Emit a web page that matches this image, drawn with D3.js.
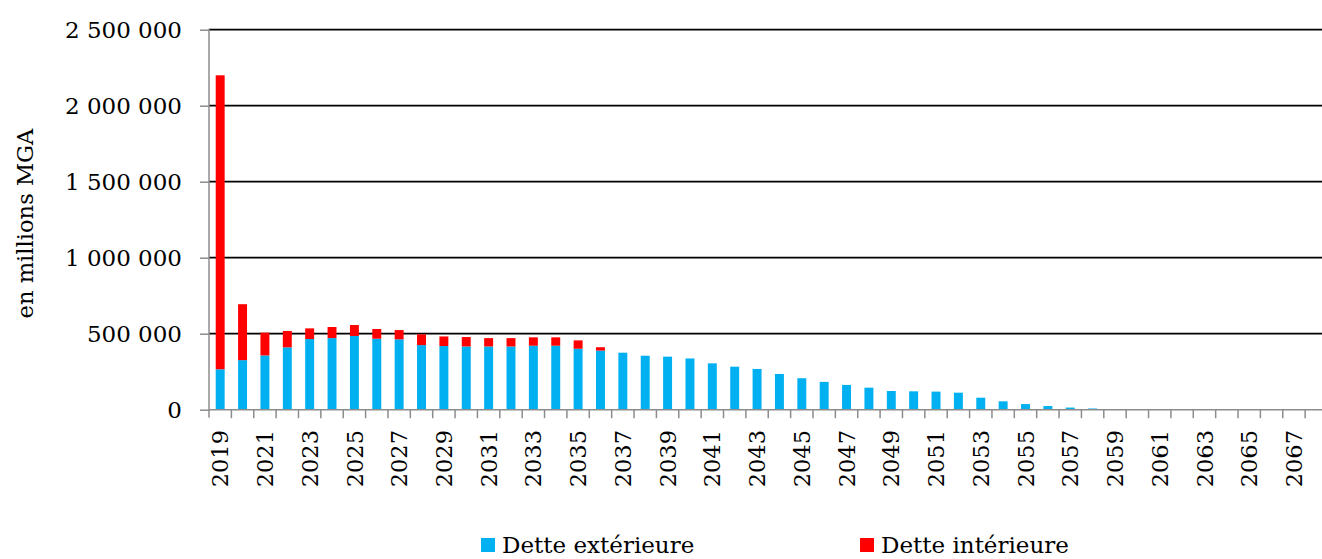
<!DOCTYPE html>
<html>
<head>
<meta charset="utf-8">
<script src="https://cdn.jsdelivr.net/npm/d3@7"></script>
<style>
  html, body { margin: 0; padding: 0; background: #fff; }
  svg { display: block; }
  text { font-family: "DejaVu Serif", serif; fill: #000; }
</style>
</head>
<body>
<svg id="chart" width="1322" height="559"></svg>
<script>
const years = [2019,2020,2021,2022,2023,2024,2025,2026,2027,2028,
  2029,2030,2031,2032,2033,2034,2035,2036,2037,2038,
  2039,2040,2041,2042,2043,2044,2045,2046,2047,2048,
  2049,2050,2051,2052,2053,2054,2055,2056,2057,2058,
  2059,2060,2061,2062,2063,2064,2065,2066,2067,2068];

const detteExterieure = [266000,326000,357000,410000,465000,471000,485000,467000,463000,425000,
  419000,416000,416000,416000,421000,421000,401000,389000,375000,355000,
  349000,337000,305000,283000,268000,235000,207000,183000,163000,145000,
  123000,121000,119000,112000,79000,55000,37000,24000,14000,8000,
  4000,3000,2500,2000,1500,500,0,0,0,0];

const detteInterieure = [1934000,368000,150000,108000,70000,73000,72000,64000,61000,71000,
  63000,62000,55000,55000,55000,55000,55000,22000,0,0,
  0,0,0,0,0,0,0,0,0,0,
  0,0,0,0,0,0,0,0,0,0,
  0,0,0,0,0,0,0,0,0,0];

const yTicks = [0, 500000, 1000000, 1500000, 2000000, 2500000];
const seriesNames = ["Dette extérieure", "Dette intérieure"];
const seriesColors = ["#00B0F0", "#FF0000"];
const yTitle = "en millions MGA";

const svg = d3.select("#chart");
const mLeft = 209, mRight = 1327.5, mTop = 29.7, mBottom = 409.7;

const x = d3.scaleBand().domain(years).range([mLeft, mRight]).paddingInner(0.6).paddingOuter(0.3);
const xb = d3.scaleLinear().domain([0, years.length]).range([mLeft, mRight]);
const y = d3.scaleLinear().domain([0, 2500000]).range([mBottom, mTop]);

// gridlines
svg.append("g").selectAll("line").data(yTicks.filter(d => d > 0)).join("line")
  .attr("x1", mLeft).attr("x2", mRight)
  .attr("y1", d => y(d)).attr("y2", d => y(d))
  .attr("stroke", "#000").attr("stroke-width", 1.8);

// stacked data
const rows = years.map((yr, i) => ({year: yr, ext: detteExterieure[i], int: detteInterieure[i]}));
const stack = d3.stack().keys(["ext", "int"])(rows);

svg.append("g").selectAll("g").data(stack).join("g")
  .attr("fill", (d, i) => seriesColors[i])
  .selectAll("rect").data(d => d).join("rect")
  .attr("x", d => x(d.data.year))
  .attr("width", x.bandwidth())
  .attr("y", d => y(d[1]))
  .attr("height", d => Math.max(0, y(d[0]) - y(d[1])));

// y axis
const yAxis = svg.append("g").attr("transform", `translate(${mLeft},0)`)
  .call(d3.axisLeft(y).tickValues(yTicks).tickSize(9).tickPadding(18)
    .tickFormat(d => d3.format(",")(d).replace(/,/g, " ")));
yAxis.select(".domain").attr("stroke", "#8c8c8c").attr("stroke-width", 1.5)
  .attr("d", `M0,${mTop - 1}V${mBottom + 8}`);
yAxis.selectAll(".tick line").attr("stroke", "#8c8c8c").attr("stroke-width", 1.5);
yAxis.selectAll(".tick text").attr("font-family", "DejaVu Serif").attr("font-size", 23)
  .attr("fill", "#000").attr("dy", "0.36em");

// x axis
const xAxisG = svg.append("g");
xAxisG.append("line").attr("x1", mLeft).attr("x2", mRight).attr("y1", mBottom).attr("y2", mBottom)
  .attr("stroke", "#8c8c8c").attr("stroke-width", 1.5);
xAxisG.selectAll("line.tk").data(d3.range(1, years.length + 1)).join("line").attr("class", "tk")
  .attr("x1", d => xb(d)).attr("x2", d => xb(d))
  .attr("y1", mBottom).attr("y2", mBottom + 8.5)
  .attr("stroke", "#8c8c8c").attr("stroke-width", 1.5);
xAxisG.selectAll("text").data(years.filter((d, i) => i % 2 === 0)).join("text")
  .attr("transform", d => `translate(${x(d) + x.bandwidth() / 2},430) rotate(-90)`)
  .attr("text-anchor", "end").attr("dy", "0.36em")
  .attr("font-size", 22.5)
  .text(d => d);

// y title
svg.append("text")
  .attr("transform", "translate(33,223.5) rotate(-90)")
  .attr("text-anchor", "middle").attr("font-size", 22.6)
  .text(yTitle);

// legend
const legendX = [481, 860];
const lg = svg.append("g").selectAll("g").data(seriesNames).join("g")
  .attr("transform", (d, i) => `translate(${legendX[i]},538)`);
lg.append("rect").attr("width", 14).attr("height", 14).attr("fill", (d, i) => seriesColors[i]);
lg.append("text").attr("x", 21).attr("y", 15).attr("font-size", 23).text(d => d);
</script>
</body>
</html>
